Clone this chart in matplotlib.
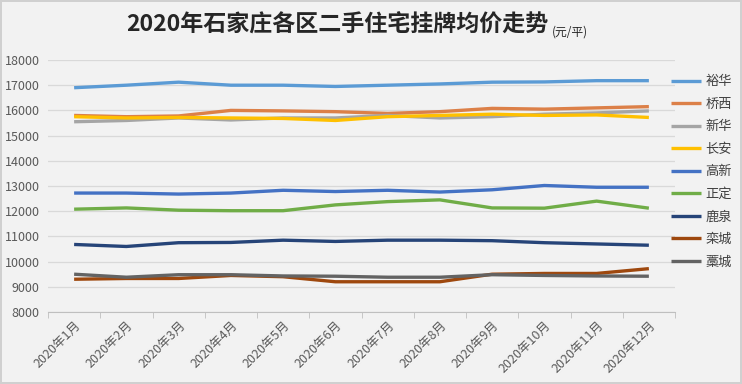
import numpy as np
import matplotlib.pyplot as plt

plt.rcParams['font.family'] = ['Noto Sans CJK SC', 'DejaVu Sans']
plt.rcParams['axes.unicode_minus'] = False

# ======= 数据 =======
months = ['2020年1月', '2020年2月', '2020年3月', '2020年4月', '2020年5月', '2020年6月',
          '2020年7月', '2020年8月', '2020年9月', '2020年10月', '2020年11月', '2020年12月']

yuhua = [16900, 17000, 17120, 17000, 17000, 16950, 17000, 17050, 17120, 17130, 17180, 17180]
qiaoxi = [15800, 15750, 15780, 16000, 15980, 15950, 15880, 15950, 16080, 16050, 16100, 16150]
xinhua = [15550, 15600, 15700, 15620, 15700, 15700, 15800, 15700, 15750, 15850, 15900, 15980]
changan = [15750, 15700, 15720, 15700, 15680, 15600, 15750, 15800, 15850, 15800, 15820, 15720]
gaoxin = [12720, 12720, 12680, 12720, 12830, 12780, 12830, 12760, 12850, 13020, 12950, 12950]
zhengding = [12080, 12130, 12040, 12020, 12020, 12250, 12380, 12450, 12130, 12120, 12400, 12120]
luquan = [10680, 10600, 10750, 10760, 10850, 10800, 10850, 10850, 10830, 10750, 10700, 10650]
luancheng = [9300, 9330, 9330, 9450, 9400, 9200, 9200, 9200, 9500, 9530, 9530, 9720]
gaocheng = [9500, 9380, 9480, 9480, 9430, 9420, 9380, 9380, 9480, 9450, 9430, 9420]

series = [
    ('裕华', yuhua, '#5B9BD5'),
    ('桥西', qiaoxi, '#DC8048'),
    ('新华', xinhua, '#A5A5A5'),
    ('长安', changan, '#FFC000'),
    ('高新', gaoxin, '#4472C4'),
    ('正定', zhengding, '#70AD47'),
    ('鹿泉', luquan, '#264478'),
    ('栾城', luancheng, '#9E480E'),
    ('藁城', gaocheng, '#636363'),
]

yticks = [8000, 9000, 10000, 11000, 12000, 13000, 14000, 15000, 16000, 17000, 18000]

# ======= 绘图 =======
bg = '#F2F2F2'
fig = plt.figure(figsize=(7.42, 3.84), dpi=100, facecolor=bg)
fig.patch.set_edgecolor('#D0D0D0')
fig.patch.set_linewidth(1.5)
ax = fig.add_axes([48 / 742, 72 / 384, 627 / 742, 252 / 384], facecolor=bg)

x = np.arange(len(months))
for name, vals, color in series:
    ax.plot(x, vals, color=color, lw=2.4, label=name, solid_capstyle='butt')

ax.set_xlim(-0.5, len(months) - 0.5)
ax.set_ylim(yticks[0], yticks[-1])
ax.set_yticks(yticks)
ax.set_yticklabels([str(v) for v in yticks], fontsize=9, color='#595959')
ax.grid(axis='y', color='#D9D9D9', lw=0.9)
ax.set_axisbelow(True)

ax.set_xticks(x)
ax.set_xticklabels(months, rotation=45, ha='right', rotation_mode='anchor',
                   fontsize=9, color='#595959')
ax.tick_params(axis='x', length=0, pad=5)
ax.set_xticks(np.arange(-0.5, len(months)), minor=True)
ax.tick_params(axis='x', which='minor', length=4, color='#BFBFBF', direction='out')
ax.tick_params(axis='y', length=0, pad=6)

for side in ['top', 'right', 'left']:
    ax.spines[side].set_visible(False)
ax.spines['bottom'].set_color('#BFBFBF')

leg = ax.legend(loc='upper left', bbox_to_anchor=(0.985, 0.96), frameon=False,
                fontsize=9.5, handlelength=2.3, handletextpad=0.3,
                labelspacing=0.72, borderaxespad=0.0)
for t in leg.get_texts():
    t.set_color('#404040')

fig.text(0.455, 0.935, '2020年石家庄各区二手住宅挂牌均价走势', ha='center', va='center',
         fontsize=16.6, fontweight='bold', color='#262626')
fig.text(0.744, 0.917, '(元/平)', ha='left', va='center', fontsize=8.5, color='#262626')

fig.savefig('out.png', dpi=100, facecolor=bg, edgecolor=fig.get_edgecolor())
